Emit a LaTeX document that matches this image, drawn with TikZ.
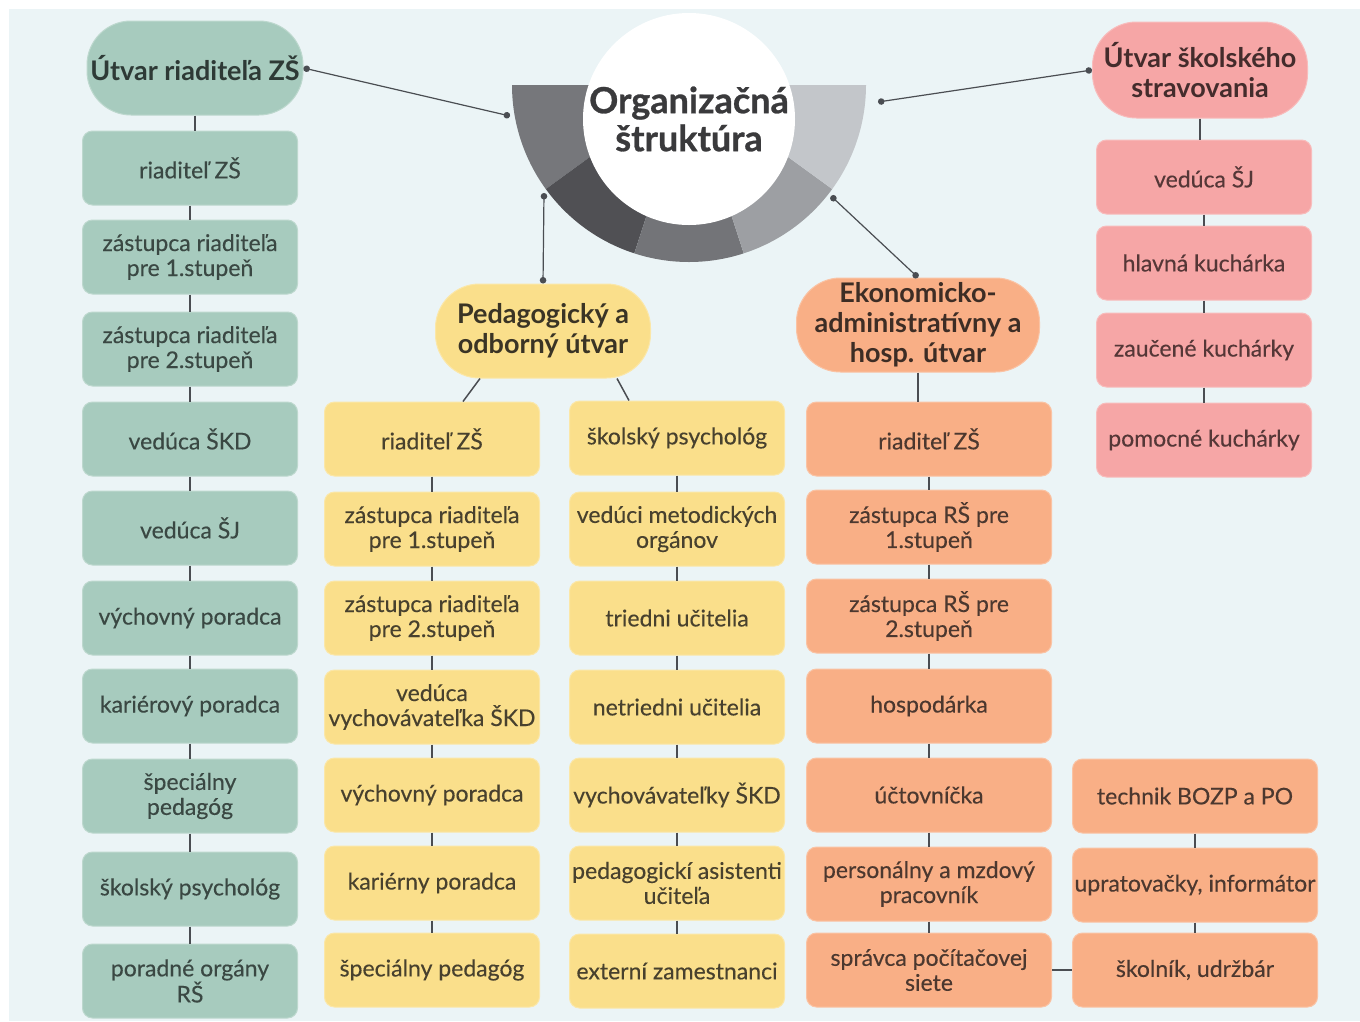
\documentclass[tikz,border=0pt]{standalone}
\usepackage{fontspec}
\setmainfont{Lato}
\newfontfamily\postfont{Lato}[FakeBold=0.3]
\newfontfamily\titlefont{Lato}[BoldFeatures={FakeBold=0.8}]
\usepackage{tikz}
\usetikzlibrary{arrows.meta,calc}
\definecolor{panel}{HTML}{EBF4F6}
\definecolor{sage}{HTML}{A7CBBE}
\definecolor{sageText}{HTML}{3A4843}
\definecolor{sun}{HTML}{FADF8B}
\definecolor{sunText}{HTML}{48412E}
\definecolor{peach}{HTML}{F9AF86}
\definecolor{peachText}{HTML}{4C382F}
\definecolor{rose}{HTML}{F6A6A6}
\definecolor{roseText}{HTML}{553737}
\definecolor{wire}{HTML}{4A4D52}
\definecolor{ringA}{HTML}{76777B}
\definecolor{ringB}{HTML}{505054}
\definecolor{ringC}{HTML}{737478}
\definecolor{ringD}{HTML}{9D9FA3}
\definecolor{ringE}{HTML}{C3C6CA}
\definecolor{titleText}{HTML}{3A3A3C}
\tikzset{
  post/.style ={rectangle, rounded corners=10pt, minimum width=215pt, minimum height=74pt, inner xsep=0pt, inner ysep=2pt, align=center, line width=1pt, font=\postfont\fontsize{23}{25}\selectfont},
  gpost/.style={post, fill=sage, draw=sage!75!white, text=sageText},
  ypost/.style={post, fill=sun, draw=sun!75!white, text=sunText},
  opost/.style={post, fill=peach, draw=peach!75!white, text=peachText, minimum width=245pt},
  ppost/.style={post, fill=rose, draw=rose!75!white, text=roseText},
  unit/.style ={rectangle, rounded corners=44pt, minimum width=216pt, minimum height=94pt, inner sep=2pt, align=center, line width=1pt, font=\fontsize{27}{30}\selectfont\bfseries},
  tie/.style  ={draw=wire, line width=1.5pt},
  link/.style ={draw=wire, line width=1.2pt, {Circle[length=6.5pt]}-{Circle[length=6.5pt]}},
}
\begin{document}
\begin{tikzpicture}[x=1pt,y=-1pt]
\useasboundingbox (0,0) rectangle (1360,1021);
\fill[white] (0,0) rectangle (1360,1021);
\fill[panel] (9,9) rectangle (1360,1021);

% half ring behind the title
\begin{scope}[shift={(689,85)},x=1pt,y=1pt]
\fill[ringA] (0,0) -- (180:177) arc[start angle=180,end angle=216,radius=177] -- cycle;
\fill[ringB] (0,0) -- (216:177) arc[start angle=216,end angle=252,radius=177] -- cycle;
\fill[ringC] (0,0) -- (252:177) arc[start angle=252,end angle=288,radius=177] -- cycle;
\fill[ringD] (0,0) -- (288:177) arc[start angle=288,end angle=324,radius=177] -- cycle;
\fill[ringE] (0,0) -- (324:177) arc[start angle=324,end angle=360,radius=177] -- cycle;
\end{scope}
\node[circle, fill=white, minimum size=212pt, inner sep=0pt, align=center, text=titleText,
  font=\titlefont\fontsize{36}{38}\selectfont\bfseries] (title) at (689,119) {Organizačná\\štruktúra};
\coordinate (rL) at (510,116);
\coordinate (rR) at (878,102);
\coordinate (rB) at (544,193);
\coordinate (rD) at (831,196);

% units
\node[unit, fill=sage, draw=sage!75!white, text=sageText!80!black] (hG) at (195,68) {Útvar riaditeľa ZŠ};
\node[unit, fill=sun, draw=sun!75!white, text=sunText!80!black, minimum width=215pt] (hY) at (543,331) {Pedagogický a\\odborný útvar};
\node[unit, fill=peach, draw=peach!75!white, text=peachText!80!black, minimum width=243pt] (hO) at (918,325) {Ekonomicko-\\administratívny a\\hosp. útvar};
\node[unit, fill=rose, draw=rose!75!white, text=roseText!80!black, minimum width=215pt, minimum height=96pt] (hP) at (1200,70) {Útvar školského\\stravovania};

% director's office
\node[gpost] (g1) at (190,168) {riaditeľ ZŠ};
\node[gpost] (g2) at (190,257) {zástupca riaditeľa\\pre 1.stupeň};
\node[gpost] (g3) at (190,349) {zástupca riaditeľa\\pre 2.stupeň};
\node[gpost] (g4) at (190,439) {vedúca ŠKD};
\node[gpost] (g5) at (190,528) {vedúca ŠJ};
\node[gpost] (g6) at (190,618) {výchovný poradca};
\node[gpost] (g7) at (190,706) {kariérový poradca};
\node[gpost] (g8) at (190,796) {špeciálny\\pedagóg};
\node[gpost] (g9) at (190,889) {školský psychológ};
\node[gpost] (g10) at (190,981) {poradné orgány\\RŠ};

% pedagogical unit
\node[ypost] (y1) at (432,439) {riaditeľ ZŠ};
\node[ypost] (y2) at (432,529) {zástupca riaditeľa\\pre 1.stupeň};
\node[ypost] (y3) at (432,618) {zástupca riaditeľa\\pre 2.stupeň};
\node[ypost] (y4) at (432,707) {vedúca\\vychovávateľka ŠKD};
\node[ypost] (y5) at (432,795) {výchovný poradca};
\node[ypost] (y6) at (432,883) {kariérny poradca};
\node[ypost] (y7) at (432,970) {špeciálny pedagóg};
\node[ypost] (b1) at (677,438) {školský psychológ};
\node[ypost] (b2) at (677,529) {vedúci metodických\\orgánov};
\node[ypost] (b3) at (677,618) {triedni učitelia};
\node[ypost] (b4) at (677,707) {netriedni učitelia};
\node[ypost] (b5) at (677,795) {vychovávateľky ŠKD};
\node[ypost] (b6) at (677,883) {pedagogickí asistenti\\učiteľa};
\node[ypost] (b7) at (677,971) {externí zamestnanci};

% economic unit
\node[opost] (o1) at (929,439) {riaditeľ ZŠ};
\node[opost] (o2) at (929,527) {zástupca RŠ pre\\1.stupeň};
\node[opost] (o3) at (929,616) {zástupca RŠ pre\\2.stupeň};
\node[opost] (o4) at (929,706) {hospodárka};
\node[opost] (o5) at (929,795) {účtovníčka};
\node[opost] (o6) at (929,884) {personálny a mzdový\\pracovník};
\node[opost] (o7) at (929,970) {správca počítačovej\\siete};
\node[opost] (t1) at (1195,796) {technik BOZP a PO};
\node[opost] (t2) at (1195,885) {upratovačky, informátor};
\node[opost] (t3) at (1195,970) {školník, udržbár};

% catering unit
\node[ppost] (p1) at (1204,177) {vedúca ŠJ};
\node[ppost] (p2) at (1204,263) {hlavná kuchárka};
\node[ppost] (p3) at (1204,350) {zaučené kuchárky};
\node[ppost] (p4) at (1204,440) {pomocné kuchárky};

% links from the title
\draw[link] (rL) -- (hG.east);
\draw[link] (rR) -- (hP.west);
\draw[link] (rB) -- (hY.north);
\draw[link] (rD) -- (hO.north);

% chains
\draw[tie] (hG.south) -- (hG.south |- g1.north);
\draw[tie] (g1) -- (g2);
\draw[tie] (g2) -- (g3);
\draw[tie] (g3) -- (g4);
\draw[tie] (g4) -- (g5);
\draw[tie] (g5) -- (g6);
\draw[tie] (g6) -- (g7);
\draw[tie] (g7) -- (g8);
\draw[tie] (g8) -- (g9);
\draw[tie] (g9) -- (g10);
\draw[tie] ([xshift=-63pt]hY.south) -- ([xshift=31pt]y1.north);
\draw[tie] ([xshift=74pt]hY.south) -- ([xshift=-48pt]b1.north);
\draw[tie] (y1) -- (y2);
\draw[tie] (y2) -- (y3);
\draw[tie] (y3) -- (y4);
\draw[tie] (y4) -- (y5);
\draw[tie] (y5) -- (y6);
\draw[tie] (y6) -- (y7);
\draw[tie] (b1) -- (b2);
\draw[tie] (b2) -- (b3);
\draw[tie] (b3) -- (b4);
\draw[tie] (b4) -- (b5);
\draw[tie] (b5) -- (b6);
\draw[tie] (b6) -- (b7);
\draw[tie] (hO.south) -- (hO.south |- o1.north);
\draw[tie] (o1) -- (o2);
\draw[tie] (o2) -- (o3);
\draw[tie] (o3) -- (o4);
\draw[tie] (o4) -- (o5);
\draw[tie] (o5) -- (o6);
\draw[tie] (o6) -- (o7);
\draw[tie] (o7) -- (t3);
\draw[tie] (t1) -- (t2);
\draw[tie] (t2) -- (t3);
\draw[tie] (hP.south) -- (hP.south |- p1.north);
\draw[tie] (p1) -- (p2);
\draw[tie] (p2) -- (p3);
\draw[tie] (p3) -- (p4);
\end{tikzpicture}
\end{document}
